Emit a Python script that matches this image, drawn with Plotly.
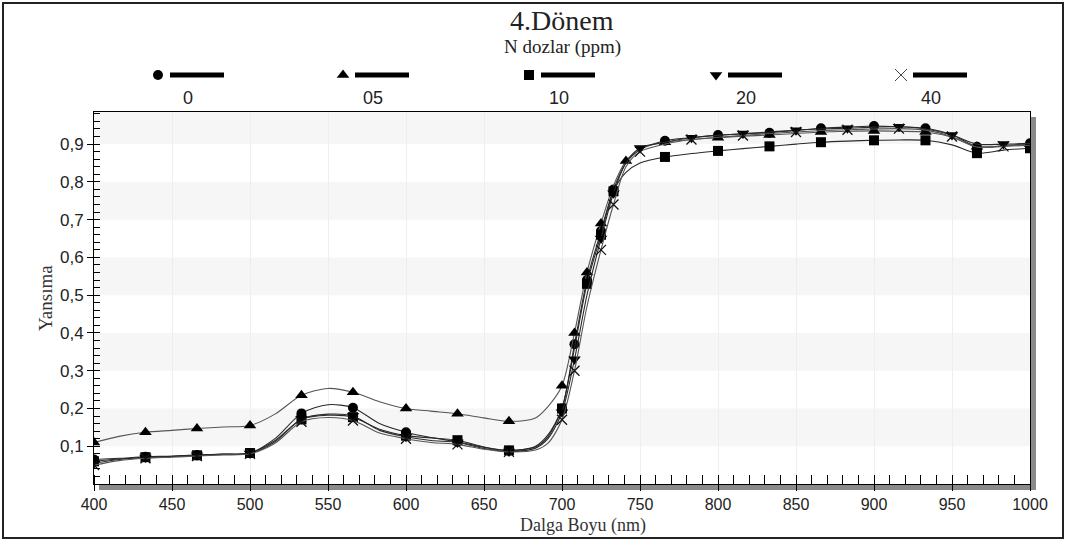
import plotly.graph_objects as go

# ---------------- data ----------------
wavelength = [400, 416, 433, 450, 466, 483, 500, 516, 533, 550, 566, 583, 600, 616, 633, 650, 666,
              683, 691, 700, 708, 716, 725, 733, 741, 750, 766, 783, 800, 816, 833, 850, 866, 883,
              900, 916, 933, 950, 966, 983, 1000]

dose_labels = ["0", "05", "10", "20", "40"]

refl_0 = [0.065, 0.068, 0.072, 0.074, 0.077, 0.079, 0.082, 0.120, 0.187, 0.210, 0.202, 0.160, 0.137,
          0.123, 0.112, 0.097, 0.088, 0.100, 0.130, 0.200, 0.370, 0.540, 0.670, 0.780, 0.850, 0.885,
          0.909, 0.917, 0.924, 0.927, 0.930, 0.936, 0.942, 0.945, 0.948, 0.946, 0.942, 0.925, 0.893,
          0.896, 0.902]
refl_05 = [0.110, 0.126, 0.137, 0.142, 0.147, 0.151, 0.155, 0.185, 0.235, 0.253, 0.243, 0.218, 0.200,
           0.193, 0.186, 0.175, 0.166, 0.175, 0.205, 0.260, 0.400, 0.560, 0.690, 0.790, 0.855, 0.888,
           0.905, 0.912, 0.917, 0.921, 0.924, 0.928, 0.932, 0.934, 0.935, 0.934, 0.932, 0.918, 0.893,
           0.895, 0.900]
refl_10 = [0.060, 0.066, 0.071, 0.073, 0.076, 0.079, 0.082, 0.115, 0.171, 0.182, 0.177, 0.145, 0.128,
           0.122, 0.116, 0.098, 0.089, 0.098, 0.125, 0.200, 0.360, 0.530, 0.660, 0.775, 0.825, 0.850,
           0.866, 0.875, 0.882, 0.888, 0.894, 0.900, 0.905, 0.908, 0.910, 0.911, 0.910, 0.898, 0.876,
           0.884, 0.889]
refl_20 = [0.055, 0.065, 0.070, 0.073, 0.076, 0.078, 0.081, 0.112, 0.172, 0.185, 0.180, 0.142, 0.125,
           0.115, 0.110, 0.094, 0.086, 0.095, 0.120, 0.190, 0.330, 0.500, 0.650, 0.770, 0.850, 0.890,
           0.905, 0.917, 0.923, 0.928, 0.932, 0.937, 0.940, 0.942, 0.945, 0.946, 0.940, 0.924, 0.900,
           0.900, 0.902]
refl_40 = [0.050, 0.062, 0.068, 0.071, 0.074, 0.077, 0.080, 0.108, 0.165, 0.176, 0.168, 0.135, 0.120,
           0.110, 0.105, 0.092, 0.085, 0.090, 0.108, 0.170, 0.300, 0.470, 0.620, 0.740, 0.840, 0.880,
           0.900, 0.912, 0.918, 0.923, 0.928, 0.932, 0.936, 0.938, 0.940, 0.941, 0.937, 0.920, 0.892,
           0.894, 0.897]

x_tick_vals = [400, 450, 500, 550, 600, 650, 700, 750, 800, 850, 900, 950, 1000]
y_tick_vals = [0.1, 0.2, 0.3, 0.4, 0.5, 0.6, 0.7, 0.8, 0.9]
y_tick_text = ["0,1", "0,2", "0,3", "0,4", "0,5", "0,6", "0,7", "0,8", "0,9"]

# ---------------- style ----------------
series = [refl_0, refl_05, refl_10, refl_20, refl_40]
symbols = ["circle", "triangle-up", "square", "triangle-down", "x-thin"]
sizes = [10, 11, 10, 11, 10]
line_cols = ["#2a2a2a", "#555555", "#2a2a2a", "#2a2a2a", "#555555"]
low = [0, 2, 4, 6, 8, 10, 12, 14, 16]
marker_idx = [
    low + [19, 20, 21, 22, 23, 26, 28, 30, 32, 34, 36, 38, 40],
    low + [19, 20, 21, 22, 24, 26, 28, 30, 32, 34, 36, 38, 40],
    low + [19, 21, 22, 23, 26, 28, 30, 32, 34, 36, 38, 40],
    low + [19, 20, 22, 23, 25, 27, 29, 31, 33, 35, 37, 39],
    low + [19, 20, 22, 23, 25, 27, 29, 31, 33, 35, 37, 39],
]

SERIF = "Liberation Serif, Times New Roman, serif"
SANS = "Liberation Sans, Arial, sans-serif"

W, H = 1067, 542
ML, MR, MT, MB = 94, 37, 0, 58
PW = W - ML - MR          # 936
PH = H - MT - MB          # 484 (paper height)
PLOT_TOP = 112            # px of plot top
ydom_top = (PH - PLOT_TOP) / PH

def px_x(px):
    return (px - ML) / PW

def px_y(py):
    return (PH - py) / PH

fig = go.Figure()

for vals, sym, sz, lc, idx, name in zip(series, symbols, sizes, line_cols, marker_idx, dose_labels):
    msize = [sz if i in idx else 0 for i in range(len(wavelength))]
    fig.add_trace(go.Scatter(
        x=wavelength, y=vals, mode="lines+markers", name=name,
        line=dict(color=lc, width=1.1, shape="spline", smoothing=0.8),
        marker=dict(symbol=sym, size=msize, color="#000000", opacity=1,
                    line=dict(color="#111111", width=1.3 if sym == "x-thin" else 0)),
        showlegend=False, xaxis="x", yaxis="y"))

# ---- legend drawn on a helper axis in pixel units ----
leg_marker_x = [158, 343, 529, 716, 901]
leg_y = 75
leg_sizes = [10, 11, 10, 11, 12]
for mx, sym, sz in zip(leg_marker_x, symbols, leg_sizes):
    fig.add_trace(go.Scatter(
        x=[mx], y=[leg_y], mode="markers",
        marker=dict(symbol=sym, size=sz, color="#000000",
                    line=dict(color="#444444" if sym == "x-thin" else "#000000",
                              width=1 if sym == "x-thin" else 0)),
        xaxis="x2", yaxis="y2", showlegend=False, hoverinfo="skip"))

shapes = []
annotations = []
for mx, lab in zip(leg_marker_x, dose_labels):
    shapes.append(dict(type="line", xref="x2", yref="y2", x0=mx + 12, x1=mx + 66, y0=leg_y, y1=leg_y,
                       line=dict(color="#000000", width=5)))
    annotations.append(dict(xref="x2", yref="y2", x=mx + 30, y=98, text=lab, showarrow=False,
                            font=dict(family=SANS, size=18, color="#222222"),
                            xanchor="center", yanchor="middle"))

annotations.append(dict(xref="x2", yref="y2", x=562, y=20, text="4.Dönem", showarrow=False,
                        font=dict(family=SERIF, size=28, color="#222222"),
                        xanchor="center", yanchor="middle"))
annotations.append(dict(xref="x2", yref="y2", x=562, y=47, text="N dozlar (ppm)", showarrow=False,
                        font=dict(family=SERIF, size=19, color="#222222"),
                        xanchor="center", yanchor="middle"))
annotations.append(dict(xref="paper", yref="paper", x=px_x(583), y=px_y(525), text="Dalga Boyu (nm)",
                        showarrow=False, font=dict(family=SERIF, size=18, color="#333333"),
                        xanchor="center", yanchor="middle"))
annotations.append(dict(xref="paper", yref="paper", x=px_x(45), y=px_y(298), text="Yansıma",
                        showarrow=False, textangle=-90,
                        font=dict(family=SERIF, size=19, color="#333333"),
                        xanchor="center", yanchor="middle"))

# alternating bands
for b0 in [0.1, 0.3, 0.5, 0.7, 0.9]:
    shapes.append(dict(type="rect", xref="x domain", yref="y", x0=0, x1=1, y0=b0, y1=min(b0 + 0.1, 0.985),
                       fillcolor="#f6f6f6", line=dict(width=0), layer="below"))
# drop shadow right & bottom
shapes.append(dict(type="rect", xref="paper", yref="paper", x0=1.0, x1=px_x(1036), y0=px_y(490),
                   y1=px_y(117), fillcolor="#8a8a8a", line=dict(width=0), layer="below"))
shapes.append(dict(type="rect", xref="paper", yref="paper", x0=px_x(99), x1=px_x(1036), y0=px_y(490),
                   y1=0, fillcolor="#8a8a8a", line=dict(width=0), layer="below"))
# outer frame
shapes.append(dict(type="rect", xref="paper", yref="paper", x0=px_x(3), x1=px_x(1063), y0=px_y(538),
                   y1=px_y(3), line=dict(color="#222222", width=2), fillcolor="rgba(0,0,0,0)", layer="above"))

fig.update_layout(
    width=W, height=H,
    margin=dict(l=ML, r=MR, t=MT, b=MB, pad=0),
    paper_bgcolor="white", plot_bgcolor="white",
    separators=", ",
    shapes=shapes, annotations=annotations,
    xaxis=dict(domain=[0, 1], range=[400, 1000], tickvals=x_tick_vals,
               ticks="outside", ticklen=6, tickcolor="#000000", tickwidth=1,
               minor=dict(dtick=10, ticks="inside", ticklen=9, tickcolor="#000000", showgrid=False),
               showline=True, linecolor="#000000", linewidth=1, mirror=True,
               showgrid=True, gridcolor="#eeeeee", gridwidth=1, zeroline=False,
               tickfont=dict(family=SANS, size=16, color="#222222")),
    yaxis=dict(domain=[0, ydom_top], range=[0, 0.985], tickvals=y_tick_vals, ticktext=y_tick_text,
               ticks="outside", ticklen=6, tickcolor="#000000", tickwidth=1,
               minor=dict(dtick=0.02, tick0=0, ticks="inside", ticklen=6, tickcolor="#000000", showgrid=False),
               showline=True, linecolor="#000000", linewidth=1, mirror=True,
               showgrid=False, zeroline=False,
               tickfont=dict(family=SANS, size=17, color="#222222")),
    xaxis2=dict(domain=[0, 1], range=[ML, ML + PW], visible=False, anchor="y2", fixedrange=True),
    yaxis2=dict(domain=[ydom_top, 1], range=[PLOT_TOP, 0], visible=False, anchor="x2", fixedrange=True),
)

fig.write_html("out.html")
